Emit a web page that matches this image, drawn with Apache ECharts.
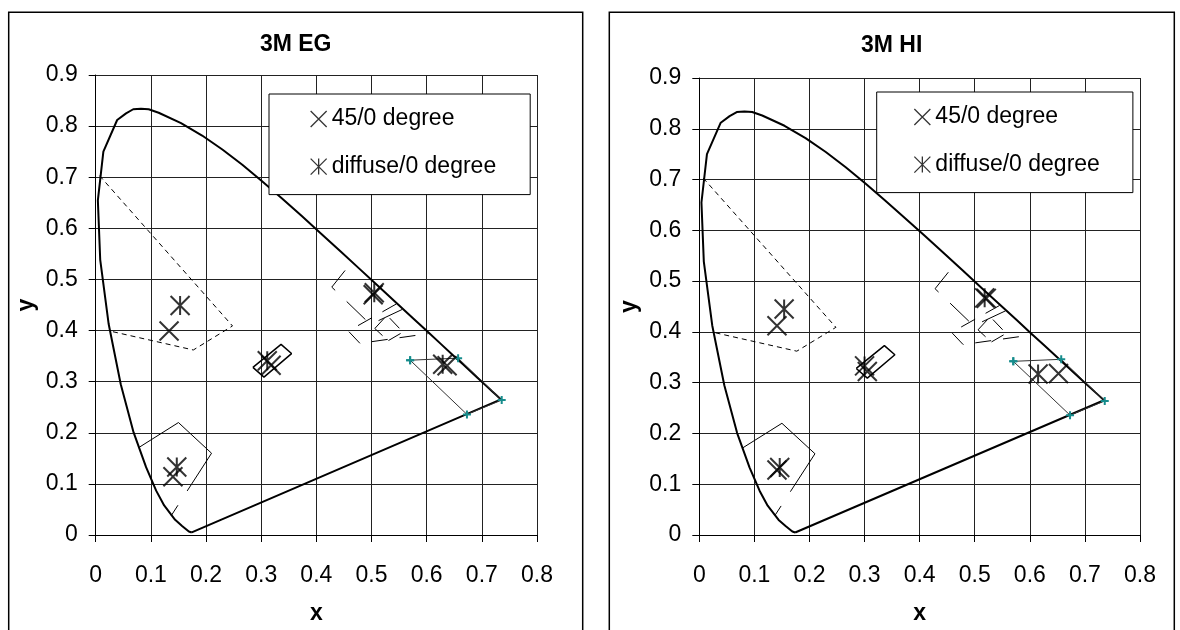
<!DOCTYPE html>
<html><head><meta charset="utf-8">
<script src="https://cdn.jsdelivr.net/npm/echarts@6/dist/echarts.min.js"></script>
<style>html,body{margin:0;padding:0;background:#fff}#c{width:1180px;height:630px}</style>
</head><body><div id="c"></div>
<script>
// ---- data ----
const titles = ['3M EG', '3M HI'];
const xTicks = [0, 0.8, 0.1];
const yTicks = [0, 0.9, 0.1];
const locusX = [0.1741,0.1738,0.1733,0.1726,0.1714,0.1689,0.1644,0.1566,0.1440,0.1241,0.1096,0.0913,0.0687,0.0454,0.0235,0.0082,0.0039,0.0139,0.0389,0.0550,0.0680,0.0820,0.0960,0.1142,0.1547,0.1929,0.2296,0.2658,0.3016,0.3373,0.3731,0.4087,0.4441,0.4788,0.5125,0.5448,0.5752,0.6029,0.6270,0.6482,0.6658,0.6915,0.7079,0.7190,0.7260,0.7347,0.1741];
const locusY = [0.0050,0.0049,0.0048,0.0048,0.0051,0.0069,0.0109,0.0177,0.0297,0.0578,0.0868,0.1327,0.2007,0.2950,0.4127,0.5384,0.6548,0.7502,0.8120,0.8250,0.8330,0.8340,0.8330,0.8262,0.8059,0.7816,0.7543,0.7243,0.6923,0.6589,0.6245,0.5896,0.5547,0.5202,0.4866,0.4544,0.4242,0.3965,0.3725,0.3514,0.3340,0.3083,0.2920,0.2809,0.2740,0.2653,0.0050];
const greenX = [0.007,0.248,0.177,0.026];
const greenY = [0.703,0.409,0.362,0.399];
const yellowX = [0.465,0.428,0.498,0.557];
const yellowY = [0.535,0.485,0.412,0.442];
const orangeX = [0.545,0.458,0.479,0.603];
const orangeY = [0.452,0.399,0.375,0.394];
const diamondX = [0.506,0.528,0.557,0.530,0.506];
const diamondY = [0.404,0.430,0.397,0.380,0.404];
const blueX = [0.078,0.150,0.210,0.137];
const blueY = [0.171,0.220,0.160,0.038];
const whiteX = [0.285,0.336,0.355,0.305,0.285];
const whiteY = [0.328,0.373,0.355,0.309,0.328];
const redX = [0.570,0.657,0.736,0.673,0.570];
const redY = [0.342,0.346,0.264,0.236,0.342];
// measurements: green, blue, white, yellow, red
const egX45 = [0.133,0.140,0.318,0.503,0.637];
const egY45 = [0.399,0.114,0.332,0.470,0.331];
const egXdf = [0.153,0.147,0.311,0.505,0.629];
const egYdf = [0.449,0.133,0.341,0.474,0.334];
const hiX45 = [0.141,0.141,0.305,0.521,0.652];
const hiY45 = [0.412,0.128,0.322,0.466,0.318];
const hiXdf = [0.154,0.146,0.300,0.518,0.615];
const hiYdf = [0.445,0.133,0.333,0.467,0.317];
const legendNames = ['45/0 degree', 'diffuse/0 degree'];

// ---- build ----
const pairs = (xs, ys) => xs.map((v, i) => [v, ys[i]]);
const FONT = '"Liberation Sans", Arial, sans-serif';
const XSYM = 'path://M0,0L10,10M10,0L0,10';
const ASYM = 'path://M0,0L10,10M10,0L0,10M5,0L5,10';
const PSYM = 'path://M5,0L5,10M0,5L10,5';

const grids = [
  {left: 95.7, top: 75, width: 441.3, height: 467.3},
  {left: 699.3, top: 78, width: 440.7, height: 467}
];
const meas = [[egX45, egY45, egXdf, egYdf], [hiX45, hiY45, hiXdf, hiYdf]];

const xAxis = [], yAxis = [], series = [], title = [], legend = [];
const boxCenters = [295.7, 891.7];
const legendPos = [[269, 94], [876.7, 92]];
const legendPad = [[13, 34, 16, 41], [13, 33, 16, 37]];
grids.forEach((g, i) => {
  xAxis.push({type: 'value', gridIndex: i, min: xTicks[0], max: xTicks[1], interval: xTicks[2],
    name: 'x', nameLocation: 'middle', nameGap: 67,
    nameTextStyle: {fontFamily: FONT, fontSize: 23, fontWeight: 'bold', color: '#000'},
    axisLine: {lineStyle: {color: '#000', width: 1}},
    axisTick: {show: true, length: 7, lineStyle: {color: '#000'}},
    axisLabel: {fontFamily: FONT, fontSize: 23, color: '#000', margin: 29},
    splitLine: {show: true, lineStyle: {color: '#222', width: 1}}});
  yAxis.push({type: 'value', gridIndex: i, min: yTicks[0], max: yTicks[1], interval: yTicks[2],
    name: 'y', nameLocation: 'middle', nameGap: 58,
    nameTextStyle: {fontFamily: FONT, fontSize: 23, fontWeight: 'bold', color: '#000'},
    axisLine: {lineStyle: {color: '#000', width: 1}},
    axisTick: {show: true, length: 7, lineStyle: {color: '#000'}},
    axisLabel: {fontFamily: FONT, fontSize: 23, color: '#000', margin: 18},
    splitLine: {show: true, lineStyle: {color: '#222', width: 1}}});
  title.push({text: titles[i], left: boxCenters[i], top: 45 + (i ? 1 : 0), textAlign: 'center', textVerticalAlign: 'middle', padding: 0,
    textStyle: {fontFamily: FONT, fontSize: 23, fontWeight: 'bold', color: '#000'}});
  legend.push({orient: 'vertical', left: legendPos[i][0], top: legendPos[i][1],
    padding: legendPad[i], itemGap: 23.6, itemWidth: 16, itemHeight: 16,
    backgroundColor: '#fff', borderColor: '#000', borderWidth: 1,
    selectedMode: false,
    textStyle: {fontFamily: FONT, fontSize: 23, color: '#000', lineHeight: 24},
    data: [
      {name: legendNames[0], icon: XSYM, itemStyle: {color: '#000', borderColor: '#000', borderWidth: 1.3}},
      {name: legendNames[1], icon: ASYM, itemStyle: {color: '#000', borderColor: '#000', borderWidth: 1.3}}
    ]});
  const L = (name, data, ls, extra) => Object.assign({name, type: 'line', xAxisIndex: i, yAxisIndex: i,
    data, symbol: 'none', silent: true, lineStyle: ls, z: 2}, extra || {});
  series.push(L('locus' + i, pairs(locusX, locusY), {color: '#000', width: 2}, {z: 3}));
  series.push(L('green' + i, pairs(greenX, greenY), {color: '#000', width: 1, type: [5, 4]}));
  series.push(L('yellow' + i, pairs(yellowX, yellowY), {color: '#000', width: 1, type: [26, 16], dashOffset: 30.6}));
  series.push(L('orange' + i, pairs(orangeX, orangeY), {color: '#000', width: 1, type: [16, 12]}));
  series.push(L('diamond' + i, pairs(diamondX, diamondY), {color: '#000', width: 1, type: [14, 8]}));
  series.push(L('blue' + i, pairs(blueX, blueY), {color: '#000', width: 1, type: [137, 17]}));
  series.push(L('white' + i, pairs(whiteX, whiteY), {color: '#000', width: 1.5}));
  series.push(L('red' + i, pairs(redX, redY), {color: '#333', width: 1},
    {symbol: PSYM, symbolSize: 8, showSymbol: true, z: 4,
     itemStyle: {color: '#168c8c', borderColor: '#168c8c', borderWidth: 2}}));
  const m = meas[i];
  series.push({name: legendNames[0], type: 'scatter', xAxisIndex: i, yAxisIndex: i, silent: true, z: 5,
    data: pairs(m[0], m[1]), symbol: XSYM, symbolSize: 19,
    itemStyle: {color: '#000', borderColor: '#000', borderWidth: 2}});
  series.push({name: legendNames[1], type: 'scatter', xAxisIndex: i, yAxisIndex: i, silent: true, z: 5,
    data: pairs(m[2], m[3]), symbol: ASYM, symbolSize: 19,
    itemStyle: {color: '#000', borderColor: '#000', borderWidth: 2}});
});

const chart = echarts.init(document.getElementById('c'), null, {renderer: 'canvas'});
chart.setOption({
  animation: false,
  backgroundColor: '#fff',
  title, legend, grid: grids, xAxis, yAxis, series,
  graphic: [
    {type: 'rect', shape: {x: 8.7, y: 12.3, width: 574, height: 640}, style: {fill: 'none', stroke: '#000', lineWidth: 1.5}, silent: true},
    {type: 'rect', shape: {x: 609.3, y: 12.3, width: 565, height: 640}, style: {fill: 'none', stroke: '#000', lineWidth: 1.5}, silent: true}
  ]
});
</script></body></html>
